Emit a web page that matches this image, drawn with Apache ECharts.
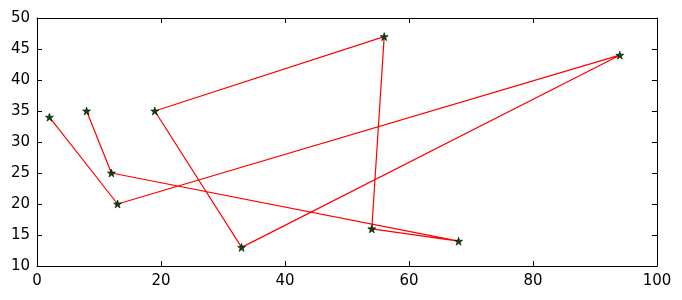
<!DOCTYPE html>
<html><head><meta charset="utf-8">
<script src="https://cdn.jsdelivr.net/npm/echarts@6/dist/echarts.min.js"></script>
<style>html,body{margin:0;padding:0;background:#fff}#c{width:682px;height:300px}</style>
</head><body><div id="c"></div>
<script>
const xValues = [2, 13, 94, 33, 19, 56, 54, 68, 12, 8];
const yValues = [34, 20, 44, 13, 35, 47, 16, 14, 25, 35];
const xTicks = [0, 20, 40, 60, 80, 100];
const yTicks = [10, 15, 20, 25, 30, 35, 40, 45, 50];

const data = xValues.map((x, i) => [x, yValues[i]]);
const star = 'path://M50,0 L61.8,36.2 L100,36.2 L69.1,58.8 L80.9,95.1 L50,72.7 L19.1,95.1 L30.9,58.8 L0,36.2 L38.2,36.2 Z';
const font = 'DejaVu Sans';
const baseX = {type:'value', min:0, max:100, interval:20,
  axisLine:{show:true, onZero:false, lineStyle:{color:'#000', width:1}},
  axisTick:{show:true, inside:true, length:5, lineStyle:{color:'#000'}},
  splitLine:{show:false}};
const baseY = {type:'value', min:10, max:50, interval:5,
  axisLine:{show:true, onZero:false, lineStyle:{color:'#000', width:1}},
  axisTick:{show:true, inside:true, length:5, lineStyle:{color:'#000'}},
  splitLine:{show:false}};
const chart = echarts.init(document.getElementById('c'), null, {renderer:'canvas'});
chart.setOption({
  animation:false,
  grid:{left:37, right:25, top:18, bottom:34, containLabel:false},
  xAxis:[
    Object.assign({}, baseX, {position:'bottom', axisLabel:{show:true, color:'#000', fontFamily:font, fontSize:15, margin:8,
      formatter: v => xTicks.includes(v) ? String(v) : ''}}),
    Object.assign({}, baseX, {position:'top', axisLabel:{show:false}})
  ],
  yAxis:[
    Object.assign({}, baseY, {position:'left', axisLabel:{show:true, color:'#000', fontFamily:font, fontSize:15, margin:7,
      formatter: v => yTicks.includes(v) ? String(v) : ''}}),
    Object.assign({}, baseY, {position:'right', axisLabel:{show:false}})
  ],
  series:[{
    type:'line', data:data, xAxisIndex:0, yAxisIndex:0,
    lineStyle:{color:'#ff0000', width:1.2},
    symbol:star, symbolSize:8, showAllSymbol:true,
    itemStyle:{color:'#0a4d0a', borderColor:'#000', borderWidth:0.6},
    z:3
  }]
});
</script></body></html>
